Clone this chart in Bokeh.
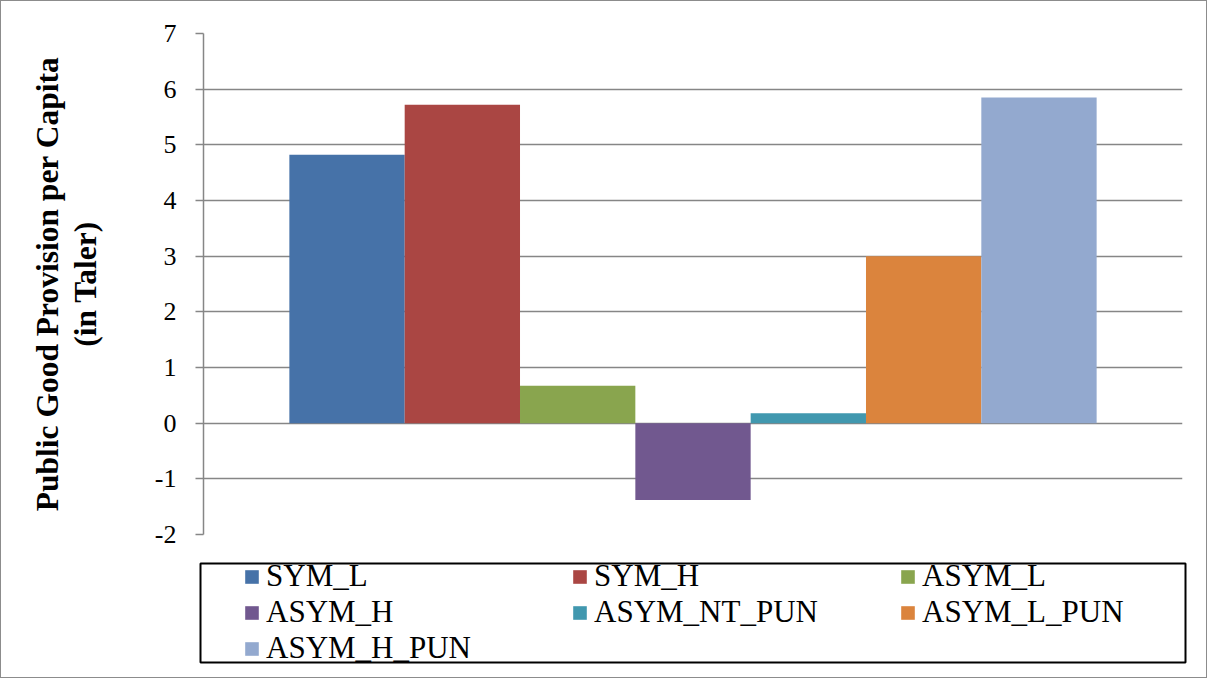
from bokeh.plotting import figure
from bokeh.models import (ColumnDataSource, FactorRange, Range1d, Legend, LegendItem,
                          Title, FixedTicker, BoxAnnotation)
from bokeh.transform import dodge
from bokeh.embed import file_html
from bokeh.resources import INLINE

# ---- data ----
series = ["SYM_L", "SYM_H", "ASYM_L", "ASYM_H", "ASYM_NT_PUN", "ASYM_L_PUN", "ASYM_H_PUN"]
values = [4.82, 5.72, 0.67, -1.38, 0.18, 3.0, 5.85]
colors = ["#4672A8", "#AA4643", "#89A54E", "#71588F", "#4198AF", "#DB843D", "#93A9CF"]
category = ["All"]
y_ticks = [-2, -1, 0, 1, 2, 3, 4, 5, 6, 7]
y_label_main = "Public Good Provision per Capita"
y_label_sub = "(in Taler)"

FONT = "Liberation Serif"
GRID = "#868686"
EDGE = "1px solid #8c8c8c"
W = 1207

# ---- main chart ----
p = figure(width=W, height=552,
           x_range=FactorRange(factors=category, range_padding=0),
           y_range=Range1d(-2, 7),
           x_axis_location=None,
           output_backend="svg", toolbar_location=None,
           min_border_left=202, min_border_right=26,
           min_border_top=32, min_border_bottom=19,
           styles={"border-left": EDGE, "border-right": EDGE, "border-top": EDGE})

bar_w = 0.1178
n = len(series)
sources = [ColumnDataSource(dict(cat=category, val=[v])) for v in values]
for i, (src, col) in enumerate(zip(sources, colors)):
    p.vbar(x=dodge("cat", (i - (n - 1) / 2) * bar_w, range=p.x_range),
           top="val", bottom=0, width=bar_w, source=src,
           fill_color=col, line_color=None)

ax = p.yaxis[0]
ax.ticker = FixedTicker(ticks=y_ticks)
ax.major_label_overrides = {t: str(t) for t in y_ticks}
ax.major_label_text_font = FONT
ax.major_label_text_font_size = "26px"
ax.major_label_text_color = "black"
ax.major_tick_out = 8
ax.major_tick_in = 0
ax.minor_tick_line_color = None
ax.axis_line_color = GRID
ax.axis_line_width = 1.5
ax.major_tick_line_color = GRID
ax.major_tick_line_width = 1.5
ax.major_label_standoff = 19
ax.axis_label = y_label_sub
ax.axis_label_text_font = FONT
ax.axis_label_text_font_style = "bold"
ax.axis_label_text_font_size = "31.5px"
ax.axis_label_text_color = "black"
ax.axis_label_standoff = 49

p.add_layout(Title(text=y_label_main, align="center", text_font=FONT,
                   text_font_size="31.5px", text_font_style="bold",
                   text_color="black", standoff=0), "left")

p.ygrid.grid_line_color = GRID
p.ygrid.grid_line_width = 1.5
p.ygrid.ticker = FixedTicker(ticks=y_ticks)
p.xgrid.visible = False
p.outline_line_color = None

# ---- legend panel: 1 data unit = 1 pixel ----
LH = 126
lg = figure(width=W, height=LH,
            x_range=Range1d(0, W), y_range=Range1d(0, LH),
            x_axis_location=None, y_axis_location=None,
            output_backend="svg", toolbar_location=None,
            min_border_left=0, min_border_right=0,
            min_border_top=0, min_border_bottom=0,
            styles={"border-left": EDGE, "border-right": EDGE, "border-bottom": EDGE})
lg.grid.visible = False
lg.outline_line_color = None

# legend box
lg.add_layout(BoxAnnotation(left=199, right=1184, top=LH - 11, bottom=LH - 110,
                            fill_alpha=0, line_color="black", line_alpha=1.0,
                            line_width=2))

# legend proxies: zero-width bars on the same data, outside the panel's view
proxies = [lg.vbar(x="val", top="val", bottom=-1, width=0, source=src,
                   fill_color=col, line_color=None)
           for src, col in zip(sources, colors)]

legend = Legend(items=[LegendItem(label=s, renderers=[r]) for s, r in zip(series, proxies)],
                ncols=3, orientation="horizontal", location=(242, 12),
                padding=0, spacing=0, margin=0,
                glyph_width=17, glyph_height=17, label_standoff=6,
                label_width=305, label_height=33,
                label_text_font=FONT, label_text_font_size="31px",
                label_text_color="black",
                border_line_color=None, background_fill_alpha=0)
lg.add_layout(legend, "center")

open("out.html", "w").write(file_html([p, lg], INLINE))
